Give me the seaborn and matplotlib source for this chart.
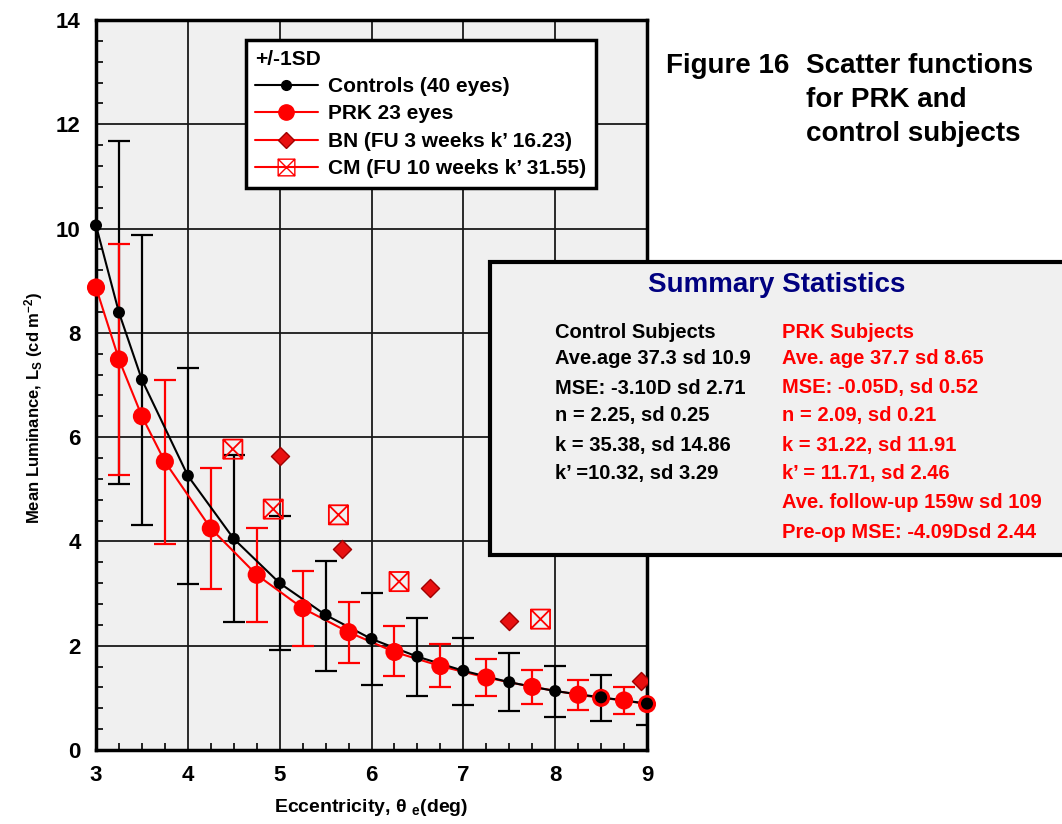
import numpy as np
import pandas as pd
import matplotlib
matplotlib.use("Agg")
import matplotlib.pyplot as plt
import seaborn as sns
from matplotlib.lines import Line2D
from matplotlib.patches import Rectangle
from matplotlib.path import Path
from matplotlib.ticker import MultipleLocator

# ---------------- data ----------------
ctrl_x = [3, 3.25, 3.5, 4, 4.5, 5, 5.5, 6, 6.5, 7, 7.5, 8, 8.5, 9]
ctrl_y = [10.06, 8.39, 7.10, 5.26, 4.05, 3.20, 2.59, 2.13, 1.79, 1.52, 1.30, 1.13, 1.01, 0.89]
ctrl_lo = [np.nan, 5.11, 4.32, 3.19, 2.45, 1.92, 1.52, 1.25, 1.04, 0.87, 0.74, 0.63, 0.56, 0.48]
ctrl_hi = [np.nan, 11.68, 9.88, 7.33, 5.65, 4.48, 3.63, 3.01, 2.54, 2.15, 1.86, 1.62, 1.44, 1.28]

prk_x = [3, 3.25, 3.5, 3.75, 4.25, 4.75, 5.25, 5.75, 6.25, 6.75, 7.25, 7.75, 8.25, 8.5, 8.75, 9]
prk_y = [8.87, 7.49, 6.40, 5.53, 4.25, 3.36, 2.72, 2.26, 1.88, 1.61, 1.39, 1.21, 1.06, 1.00, 0.95, 0.88]
prk_lo = [np.nan, 5.27, np.nan, 3.96, 3.09, 2.46, 2.00, 1.66, 1.41, 1.20, 1.03, 0.89, 0.77, np.nan, 0.69, np.nan]
prk_hi = [np.nan, 9.70, np.nan, 7.09, 5.41, 4.26, 3.44, 2.84, 2.38, 2.03, 1.75, 1.53, 1.35, np.nan, 1.20, np.nan]

bn_x = [5.0, 5.68, 6.64, 7.50, 8.94]
bn_y = [5.64, 3.86, 3.11, 2.47, 1.33]

cm_x = [4.49, 4.93, 5.64, 6.30, 7.84]
cm_y = [5.77, 4.62, 4.51, 3.23, 2.51]

x_ticks = [3, 4, 5, 6, 7, 8, 9]
y_ticks = [0, 2, 4, 6, 8, 10, 12, 14]

legend_labels = ["Controls (40 eyes)", "PRK 23 eyes",
                 "BN (FU 3 weeks k\u2019 16.23)", "CM (FU 10 weeks k\u2019 31.55)"]
ctrl_stats = ["Control Subjects", "Ave.age 37.3 sd 10.9", "MSE: -3.10D sd 2.71",
              "n = 2.25, sd 0.25", "k = 35.38, sd 14.86", "k\u2019 =10.32, sd 3.29"]
prk_stats = ["PRK Subjects", "Ave. age 37.7 sd 8.65", "MSE: -0.05D, sd 0.52",
             "n = 2.09, sd 0.21", "k = 31.22, sd 11.91", "k\u2019 = 11.71, sd 2.46",
             "Ave. follow-up 159w sd 109", "Pre-op MSE: -4.09Dsd 2.44"]

# ---------------- style ----------------
sns.set_style("ticks")
plt.rcParams["font.family"] = ["Liberation Sans", "DejaVu Sans"]
plt.rcParams["font.weight"] = "bold"
plt.rcParams["text.color"] = "black"
plt.rcParams["axes.labelcolor"] = "black"
plt.rcParams["xtick.color"] = "black"
plt.rcParams["ytick.color"] = "black"
plt.rcParams["mathtext.fontset"] = "custom"
plt.rcParams["mathtext.rm"] = "Liberation Sans:bold"
plt.rcParams["mathtext.bf"] = "Liberation Sans:bold"
plt.rcParams["mathtext.it"] = "Liberation Sans:bold"
plt.rcParams["mathtext.default"] = "bf"

RED = "#ff0000"
fig = plt.figure(figsize=(10.62, 8.24), dpi=100)
ax = fig.add_axes([96 / 1062, 1 - 750 / 824, (647 - 96) / 1062, (750 - 20) / 824])
ax.set_facecolor("#f0f0f0")

# error bars
ax.errorbar(ctrl_x, ctrl_y,
            yerr=[np.array(ctrl_y) - np.array(ctrl_lo), np.array(ctrl_hi) - np.array(ctrl_y)],
            fmt="none", ecolor="black", elinewidth=1.6, capsize=8, capthick=1.6, zorder=3)
ax.errorbar(prk_x, prk_y,
            yerr=[np.array(prk_y) - np.array(prk_lo), np.array(prk_hi) - np.array(prk_y)],
            fmt="none", ecolor=RED, elinewidth=1.6, capsize=8, capthick=1.6, zorder=3)

df_c = pd.DataFrame({"x": ctrl_x, "y": ctrl_y})
df_p = pd.DataFrame({"x": prk_x, "y": prk_y})
sns.lineplot(data=df_p, x="x", y="y", color=RED, lw=1.5, ax=ax, zorder=4)
sns.lineplot(data=df_c, x="x", y="y", color="black", lw=1.5, ax=ax, zorder=5)
sns.scatterplot(data=df_p, x="x", y="y", color=RED, s=170, edgecolor="none", ax=ax, zorder=6,
                clip_on=False)
sns.scatterplot(data=df_c, x="x", y="y", color="black", s=75, edgecolor="none", ax=ax, zorder=7,
                clip_on=False)

# BN diamonds
df_bn = pd.DataFrame({"x": bn_x, "y": bn_y})
sns.scatterplot(data=df_bn, x="x", y="y", marker="D", color="#e81010", edgecolor="#a00000",
                linewidth=1.0, s=85, ax=ax, zorder=6)

# CM boxed crosses
verts = [(-1, -1), (1, -1), (1, 1), (-1, 1), (-1, -1), (-1, -1), (1, 1), (1, -1), (-1, 1)]
codes = [Path.MOVETO, Path.LINETO, Path.LINETO, Path.LINETO, Path.CLOSEPOLY,
         Path.MOVETO, Path.LINETO, Path.MOVETO, Path.LINETO]
boxx = Path(verts, codes)
df_cm = pd.DataFrame({"x": cm_x, "y": cm_y})
ax.scatter(df_cm["x"], df_cm["y"], marker=boxx, s=190, facecolor="none",
           edgecolor=RED, linewidth=1.3, zorder=6)

# axes formatting
ax.set_xlim(3, 9)
ax.set_ylim(0, 14)
ax.set_xticks(x_ticks, [str(v) for v in x_ticks], fontsize=16, fontweight="bold")
ax.set_yticks(y_ticks, [str(v) for v in y_ticks], fontsize=16, fontweight="bold")
ax.xaxis.set_minor_locator(MultipleLocator(0.25))
ax.yaxis.set_minor_locator(MultipleLocator(0.4))
ax.grid(True, which="major", color="#1a1a1a", lw=1.3)
ax.set_axisbelow(True)
ax.tick_params(axis="both", which="major", direction="in", length=0, pad=11)
ax.tick_params(axis="both", which="minor", direction="in", length=5, width=1.2)
ax.tick_params(top=False, right=False, which="both")
for s in ax.spines.values():
    s.set_linewidth(2.5)
    s.set_color("black")
    s.set_visible(True)

ax.set_xlabel("Eccentricity, \u03b8 $_{e}$(deg)", fontsize=14, fontweight="bold", labelpad=8)
ax.set_ylabel("Mean Luminance, L$_{S}$ (cd m$^{-2}$)", fontsize=12, fontweight="bold")
ax.yaxis.set_label_coords(-0.092, 0.468)

# legend
handles = [
    Line2D([], [], color="black", lw=1.5, marker="o", markersize=7),
    Line2D([], [], color=RED, lw=1.5, marker="o", markersize=11),
    Line2D([], [], color=RED, lw=1.5, marker="D", markersize=8,
           markerfacecolor="#e81010", markeredgecolor="#a00000"),
    Line2D([], [], color=RED, lw=1.5, marker=boxx, markersize=12,
           markerfacecolor="none", markeredgecolor=RED),
]
leg = ax.legend(handles, legend_labels, title="+/-1SD", loc="upper left",
                bbox_to_anchor=(0.272, 0.972), frameon=True, fancybox=False,
                shadow=False, fontsize=15, title_fontsize=15, alignment="left",
                handlelength=3.0, handletextpad=0.5, labelspacing=0.4,
                borderpad=0.45, borderaxespad=0)
leg.get_title().set_fontweight("bold")
for t in leg.get_texts():
    t.set_fontweight("bold")
leg.get_frame().set_edgecolor("black")
leg.get_frame().set_linewidth(2.5)
leg.get_frame().set_facecolor("white")
leg.get_frame().set_alpha(1)
leg.set_zorder(20)

# figure title text
fig.text(666 / 1062, 1 - 66 / 824, "Figure 16", fontsize=20, fontweight="bold", va="center", ha="left")
for i, line in enumerate(["Scatter functions", "for PRK and", "control subjects"]):
    fig.text(806 / 1062, 1 - (66 + 34 * i) / 824, line, fontsize=20, fontweight="bold",
             va="center", ha="left")

# summary box
box = Rectangle((490 / 1062, 1 - 555 / 824), 0.6, (555 - 262) / 824, transform=fig.transFigure,
                facecolor="#f0f0f0", edgecolor="black", linewidth=3, zorder=5)
fig.add_artist(box)
fig.text(777 / 1062, 1 - 285 / 824, "Summary Statistics", fontsize=20, fontweight="bold",
         color="#000080", ha="center", va="center", zorder=6)
rows_c = [333, 359, 388, 416, 445, 474]
rows_p = [333, 359, 388, 416, 445, 474, 503, 533]
for txt, yy in zip(ctrl_stats, rows_c):
    fig.text(555 / 1062, 1 - yy / 824, txt, fontsize=14.5, fontweight="bold", color="black",
             ha="left", va="center", zorder=6)
for txt, yy in zip(prk_stats, rows_p):
    fig.text(782 / 1062, 1 - yy / 824, txt, fontsize=14.5, fontweight="bold", color=RED,
             ha="left", va="center", zorder=6)

fig.savefig("out.png", dpi=100)
